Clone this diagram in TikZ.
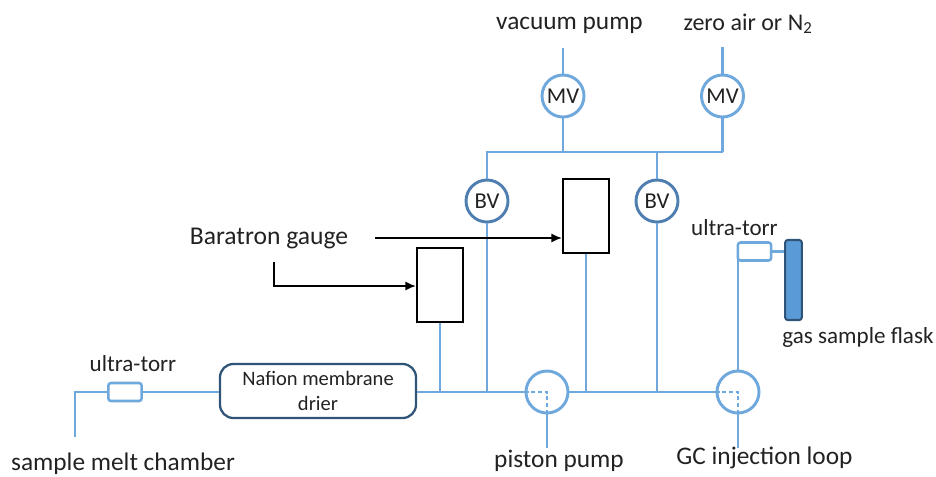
\documentclass[tikz,border=0pt]{standalone}
\usepackage{fontspec}
\setmainfont{Carlito}
\usetikzlibrary{arrows.meta}
\definecolor{pipe}{HTML}{6FA8DC}
\definecolor{dkblue}{HTML}{2F5478}
\definecolor{midblue}{HTML}{4F7FB0}
\definecolor{flask}{HTML}{5B9BD5}
\definecolor{txt}{HTML}{222222}
\tikzset{
 pipeline/.style={draw=pipe,line width=2.2pt},
 dashpipe/.style={draw=pipe,line width=0.9pt,densely dashed},
 valve/.style={circle,draw=pipe,line width=2.2pt,minimum size=31.5pt,inner sep=0pt,fill=white,font=\fontsize{17}{20}\selectfont,text=txt},
 valvedk/.style={valve,draw=midblue},
 pumpc/.style={circle,draw=pipe,line width=2.2pt,minimum size=31.5pt,inner sep=0pt},
 gauge/.style={draw=black,line width=1.6pt,minimum width=34.5pt,minimum height=55.5pt,inner sep=0pt,fill=white},
 fitting/.style={draw=pipe,line width=1.9pt,rounded corners=2pt,minimum width=25pt,minimum height=13.5pt,inner sep=0pt,fill=white},
 lab/.style={font=\fontsize{19}{21}\selectfont,text=txt,inner sep=0pt},
 labs/.style={font=\fontsize{17.3}{20}\selectfont,text=txt,inner sep=0pt},
 arr/.style={draw=black,line width=1.4pt,-{Latex[length=8pt,width=7pt]}}
}
\begin{document}
\begin{tikzpicture}[x=0.75pt,y=-0.75pt]
\useasboundingbox (0,0) rectangle (936,476);
% free ends
\coordinate (vpTop) at (563,48);
\coordinate (zaTop) at (722.5,47);
\coordinate (hL) at (487,152);
\coordinate (hR) at (722.5,152);
\coordinate (hA) at (563,152);
\coordinate (hB) at (657,152);
\coordinate (jB) at (487,392);
\coordinate (jC) at (586,392);
\coordinate (jD) at (657,392);
\coordinate (jA) at (440,392);
\coordinate (smEnd) at (75,437);
\coordinate (smCorner) at (75,392);
\coordinate (ppEnd) at (547,448);
\coordinate (gcEnd) at (738,448);
\coordinate (ppC) at (547,392);
\coordinate (gcC) at (738,392);
\coordinate (bgA) at (375,238);
\coordinate (bgB) at (274,262);
\coordinate (bgBc) at (274,286);
% nodes
\node[valve] (mv1) at (563,96) {MV};
\node[valve] (mv2) at (722.5,96) {MV};
\node[valvedk] (bv1) at (487,201) {BV};
\node[valvedk] (bv2) at (657,201) {BV};
\node[gauge] (g1) at (586,216) {};
\node[gauge] (g2) at (440,285) {};
\node[draw=dkblue,line width=1.7pt,rounded corners=10pt,minimum width=147pt,minimum height=40.5pt,inner sep=0pt,align=center,font=\fontsize{15.4}{18.5}\selectfont,text=txt] (naf) at (318,391) {Nafion membrane\\drier};
\node[pumpc] (pp) at (ppC) {};
\node[pumpc] (gc) at (gcC) {};
\node[fitting] (f1) at (125,392) {};
\node[fitting] (f2) at (754.5,251.5) {};
\node[draw=dkblue,line width=1.6pt,fill=flask,rounded corners=2pt,minimum width=12.5pt,minimum height=60pt,inner sep=0pt] (fl) at (793.5,280) {};
% labels
\node[lab] (l1) at (569.5,25) {vacuum pump};
\node[labs,font=\fontsize{18}{20}\selectfont] (l2) at (748,24) {zero air or N\textsubscript{2}};
\node[lab,font=\fontsize{19.2}{21}\selectfont] (l3) at (269,238) {Baratron gauge};
\node[labs] (l4) at (734.5,228) {ultra-torr};
\node[labs] (l5) at (858,337) {gas sample flask};
\node[labs] (l6) at (133,364) {ultra-torr};
\node[lab] (l7) at (123,463.5) {sample melt chamber};
\node[lab] (l8) at (559,461) {piston pump};
\node[lab] (l9) at (764.5,458) {GC injection loop};
% pipes
\draw[pipeline] (vpTop) -- (mv1.north);
\draw[pipeline] (zaTop) -- (mv2.north);
\draw[pipeline] (mv1.south) -- (hA);
\draw[pipeline] (mv2.south) -- (hR);
\draw[pipeline] (bv1.north) -- (hL) -- (hR);
\draw[pipeline] (hB) -- (bv2.north);
\draw[pipeline] (bv1.south) -- (jB);
\draw[pipeline] (bv2.south) -- (jD);
\draw[pipeline] (g1.south) -- (jC);
\draw[pipeline] (g2.south) -- (jA);
\draw[pipeline] (naf.east |- pp.west) -- (pp.west);
\draw[pipeline] (pp.east) -- (gc.west);
\draw[pipeline] (pp.south) -- (ppEnd);
\draw[pipeline] (gc.south) -- (gcEnd);
\draw[pipeline] (gc.north) -- (gc.north |- f2.west);
\draw[pipeline] (smEnd) -- (smCorner) -- (f1.west);
\draw[pipeline] (f1.east) -- (naf.west |- f1.east);
\draw[pipeline] (f2.east) -- (f2.east -| fl.west);
\draw[dashpipe] (pp.west) -| (pp.south);
\draw[dashpipe] (gc.west) -| (gc.south);
% arrows
\draw[arr] (bgA) -- (g1.west |- bgA);
\draw[arr] (bgB) -- (bgBc) -- (g2.west |- bgBc);
\end{tikzpicture}
\end{document}
